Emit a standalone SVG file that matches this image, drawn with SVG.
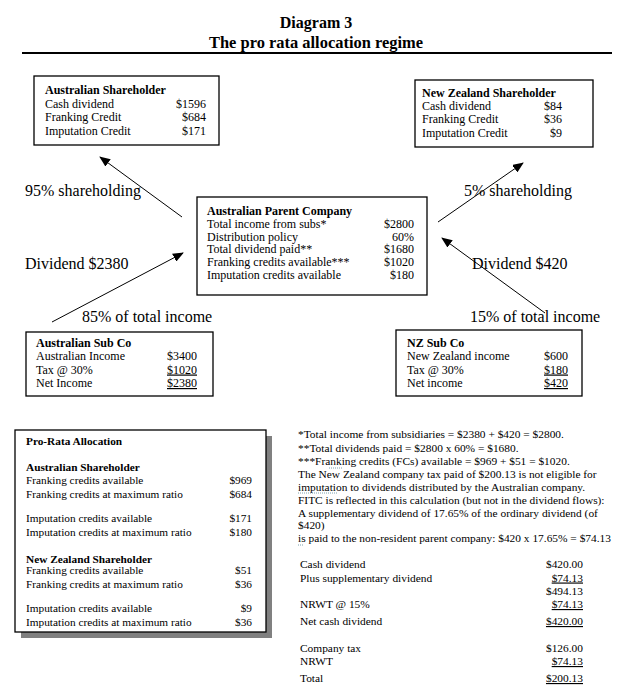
<svg xmlns="http://www.w3.org/2000/svg" width="641" height="694" viewBox="0 0 641 694">
<style>
text{font-family:"Liberation Serif","Times New Roman",serif;fill:#000}
.t{font-size:16px;font-weight:bold}
.b{font-size:12px}
.bh{font-size:12px;font-weight:bold}
.lab{font-size:16px}
.s{font-size:11.3px}
.sh{font-size:11.3px;font-weight:bold}
.n{font-size:11.4px}
.r{text-anchor:end}
.u{text-decoration:underline}
.box{fill:#fff;stroke:#000;stroke-width:1.3}
.conn{stroke:#000;stroke-width:1;fill:none}
.sq{stroke:#5a8a9a;stroke-width:0.8;fill:none;stroke-dasharray:1 1}
</style>
<defs>
<marker id="ah" markerWidth="11" markerHeight="9" refX="10" refY="4.5" orient="auto" markerUnits="userSpaceOnUse">
<path d="M0,0 L11,4.5 L0,9 Z" fill="#000"/>
</marker>
</defs>
<rect width="641" height="694" fill="#fff"/>
<g id="title">
<text class="t" x="316" y="28" text-anchor="middle">Diagram 3</text>
<text class="t" x="316" y="48" text-anchor="middle" textLength="214" lengthAdjust="spacingAndGlyphs">The pro rata allocation regime</text>
<line x1="22" y1="53" x2="612" y2="53" stroke="#000" stroke-width="2"/>
</g>
<g id="connectors">
<line class="conn" x1="182" y1="217" x2="100" y2="157" marker-end="url(#ah)"/>
<line class="conn" x1="52" y1="322" x2="183" y2="253" marker-end="url(#ah)"/>
<line class="conn" x1="438" y1="222" x2="523" y2="163" marker-end="url(#ah)"/>
<line class="conn" x1="545" y1="313" x2="442" y2="238" marker-end="url(#ah)"/>
<text class="lab" x="25" y="196">95% shareholding</text>
<text class="lab" x="25" y="269">Dividend $2380</text>
<text class="lab" x="82" y="322">85% of total income</text>
<text class="lab" x="464" y="196">5% shareholding</text>
<text class="lab" x="472" y="269">Dividend $420</text>
<text class="lab" x="470" y="322">15% of total income</text>
</g>
<g id="aus-shareholder">
<rect class="box" x="34" y="76" width="185" height="69"/>
<text class="bh" x="45" y="94">Australian Shareholder</text>
<text class="b" x="45" y="107.5">Cash dividend</text><text class="b r" x="206" y="107.5">$1596</text>
<text class="b" x="45" y="121">Franking Credit</text><text class="b r" x="206" y="121">$684</text>
<text class="b" x="45" y="134.5">Imputation Credit</text><text class="b r" x="206" y="134.5">$171</text>
</g>
<g id="nz-shareholder">
<rect class="box" x="415" y="80" width="178" height="67"/>
<text class="bh" x="422" y="96.5">New Zealand Shareholder</text>
<text class="b" x="422" y="109.5">Cash dividend</text><text class="b r" x="562" y="109.5">$84</text>
<text class="b" x="422" y="123">Franking Credit</text><text class="b r" x="562" y="123">$36</text>
<text class="b" x="422" y="136.5">Imputation Credit</text><text class="b r" x="562" y="136.5">$9</text>
</g>
<g id="parent">
<rect class="box" x="197" y="197" width="230" height="98"/>
<text class="bh" x="207" y="215">Australian Parent Company</text>
<text class="b" x="207" y="228">Total income from subs*</text><text class="b r" x="414" y="228">$2800</text>
<text class="b" x="207" y="240.7">Distribution policy</text><text class="b r" x="414" y="240.7">60%</text>
<text class="b" x="207" y="253.4">Total dividend paid**</text><text class="b r" x="414" y="253.4">$1680</text>
<text class="b" x="207" y="266">Franking credits available***</text><text class="b r" x="414" y="266">$1020</text>
<text class="b" x="207" y="278.7">Imputation credits available</text><text class="b r" x="414" y="278.7">$180</text>
</g>
<g id="aus-sub">
<rect class="box" x="26" y="332" width="187" height="64"/>
<text class="bh" x="36" y="347">Australian Sub Co</text>
<text class="b" x="36" y="360">Australian Income</text><text class="b r" x="197" y="360">$3400</text>
<text class="b" x="36" y="373.5">Tax @ 30%</text><text class="b r u" x="197" y="373.5">$1020</text>
<text class="b" x="36" y="387">Net Income</text><text class="b r u" x="197" y="387">$2380</text>
</g>
<g id="nz-sub">
<rect class="box" x="396" y="330" width="186" height="66"/>
<text class="bh" x="407" y="347">NZ Sub Co</text>
<text class="b" x="407" y="360">New Zealand income</text><text class="b r" x="568" y="360">$600</text>
<text class="b" x="407" y="373.5">Tax @ 30%</text><text class="b r u" x="568" y="373.5">$180</text>
<text class="b" x="407" y="387">Net income</text><text class="b r u" x="568" y="387">$420</text>
</g>
<g id="pro-rata">
<rect x="21" y="436" width="251" height="202" fill="#808080"/>
<rect class="box" x="15" y="430" width="251" height="202"/>
<text class="sh" x="26" y="445">Pro-Rata Allocation</text>
<text class="sh" x="26" y="471">Australian Shareholder</text>
<text class="s" x="26" y="484">Franking credits available</text><text class="s r" x="252" y="484">$969</text>
<text class="s" x="26" y="498">Franking credits at maximum ratio</text><text class="s r" x="252" y="498">$684</text>
<text class="s" x="26" y="522">Imputation credits available</text><text class="s r" x="252" y="522">$171</text>
<text class="s" x="26" y="536">Imputation credits at maximum ratio</text><text class="s r" x="252" y="536">$180</text>
<text class="sh" x="26" y="563">New Zealand Shareholder</text>
<text class="s" x="26" y="574">Franking credits available</text><text class="s r" x="252" y="574">$51</text>
<text class="s" x="26" y="588">Franking credits at maximum ratio</text><text class="s r" x="252" y="588">$36</text>
<text class="s" x="26" y="612">Imputation credits available</text><text class="s r" x="252" y="612">$9</text>
<text class="s" x="26" y="626">Imputation credits at maximum ratio</text><text class="s r" x="252" y="626">$36</text>
</g>
<g id="notes">
<text class="n" x="298" y="438.3">*Total income from subsidiaries = $2380 + $420 = $2800.</text>
<text class="n" x="298" y="451.7">**Total dividends paid = $2800 x 60% = $1680.</text>
<text class="n" x="298" y="464.5">***Franking credits (FCs) available = $969 + $51 = $1020.</text>
<text class="n" x="298" y="478">The New Zealand company tax paid of $200.13 is not eligible for</text>
<text class="n" x="298" y="490.7">imputation to dividends distributed by the Australian company.</text>
<text class="n" x="298" y="504">FITC is reflected in this calculation (but not in the dividend flows):</text>
<text class="n" x="298" y="516.7">A supplementary dividend of 17.65% of the ordinary dividend (of</text>
<text class="n" x="298" y="529">$420)</text>
<text class="n" x="298" y="542.3">is paid to the non-resident parent company: $420 x 17.65% = $74.13</text>
<path class="sq" d="M329,468 h14"/>
<path class="sq" d="M298,493 h39"/>
<path class="sq" d="M298,545 h6"/>
</g>
<g id="calc">
<text class="n" x="300" y="568">Cash dividend</text><text class="n r" x="583" y="568">$420.00</text>
<text class="n" x="300" y="581.5">Plus supplementary dividend</text><text class="n r u" x="583" y="581.5">$74.13</text>
<text class="n r" x="583" y="595">$494.13</text>
<text class="n" x="300" y="608">NRWT @ 15%</text><text class="n r u" x="583" y="608">$74.13</text>
<text class="n" x="300" y="625">Net cash dividend</text><text class="n r u" x="583" y="625">$420.00</text>
<text class="n" x="300" y="652">Company tax</text><text class="n r" x="583" y="652">$126.00</text>
<text class="n" x="300" y="665">NRWT</text><text class="n r u" x="583" y="665">$74.13</text>
<text class="n" x="300" y="682">Total</text><text class="n r u" x="583" y="682">$200.13</text>
</g>
</svg>
